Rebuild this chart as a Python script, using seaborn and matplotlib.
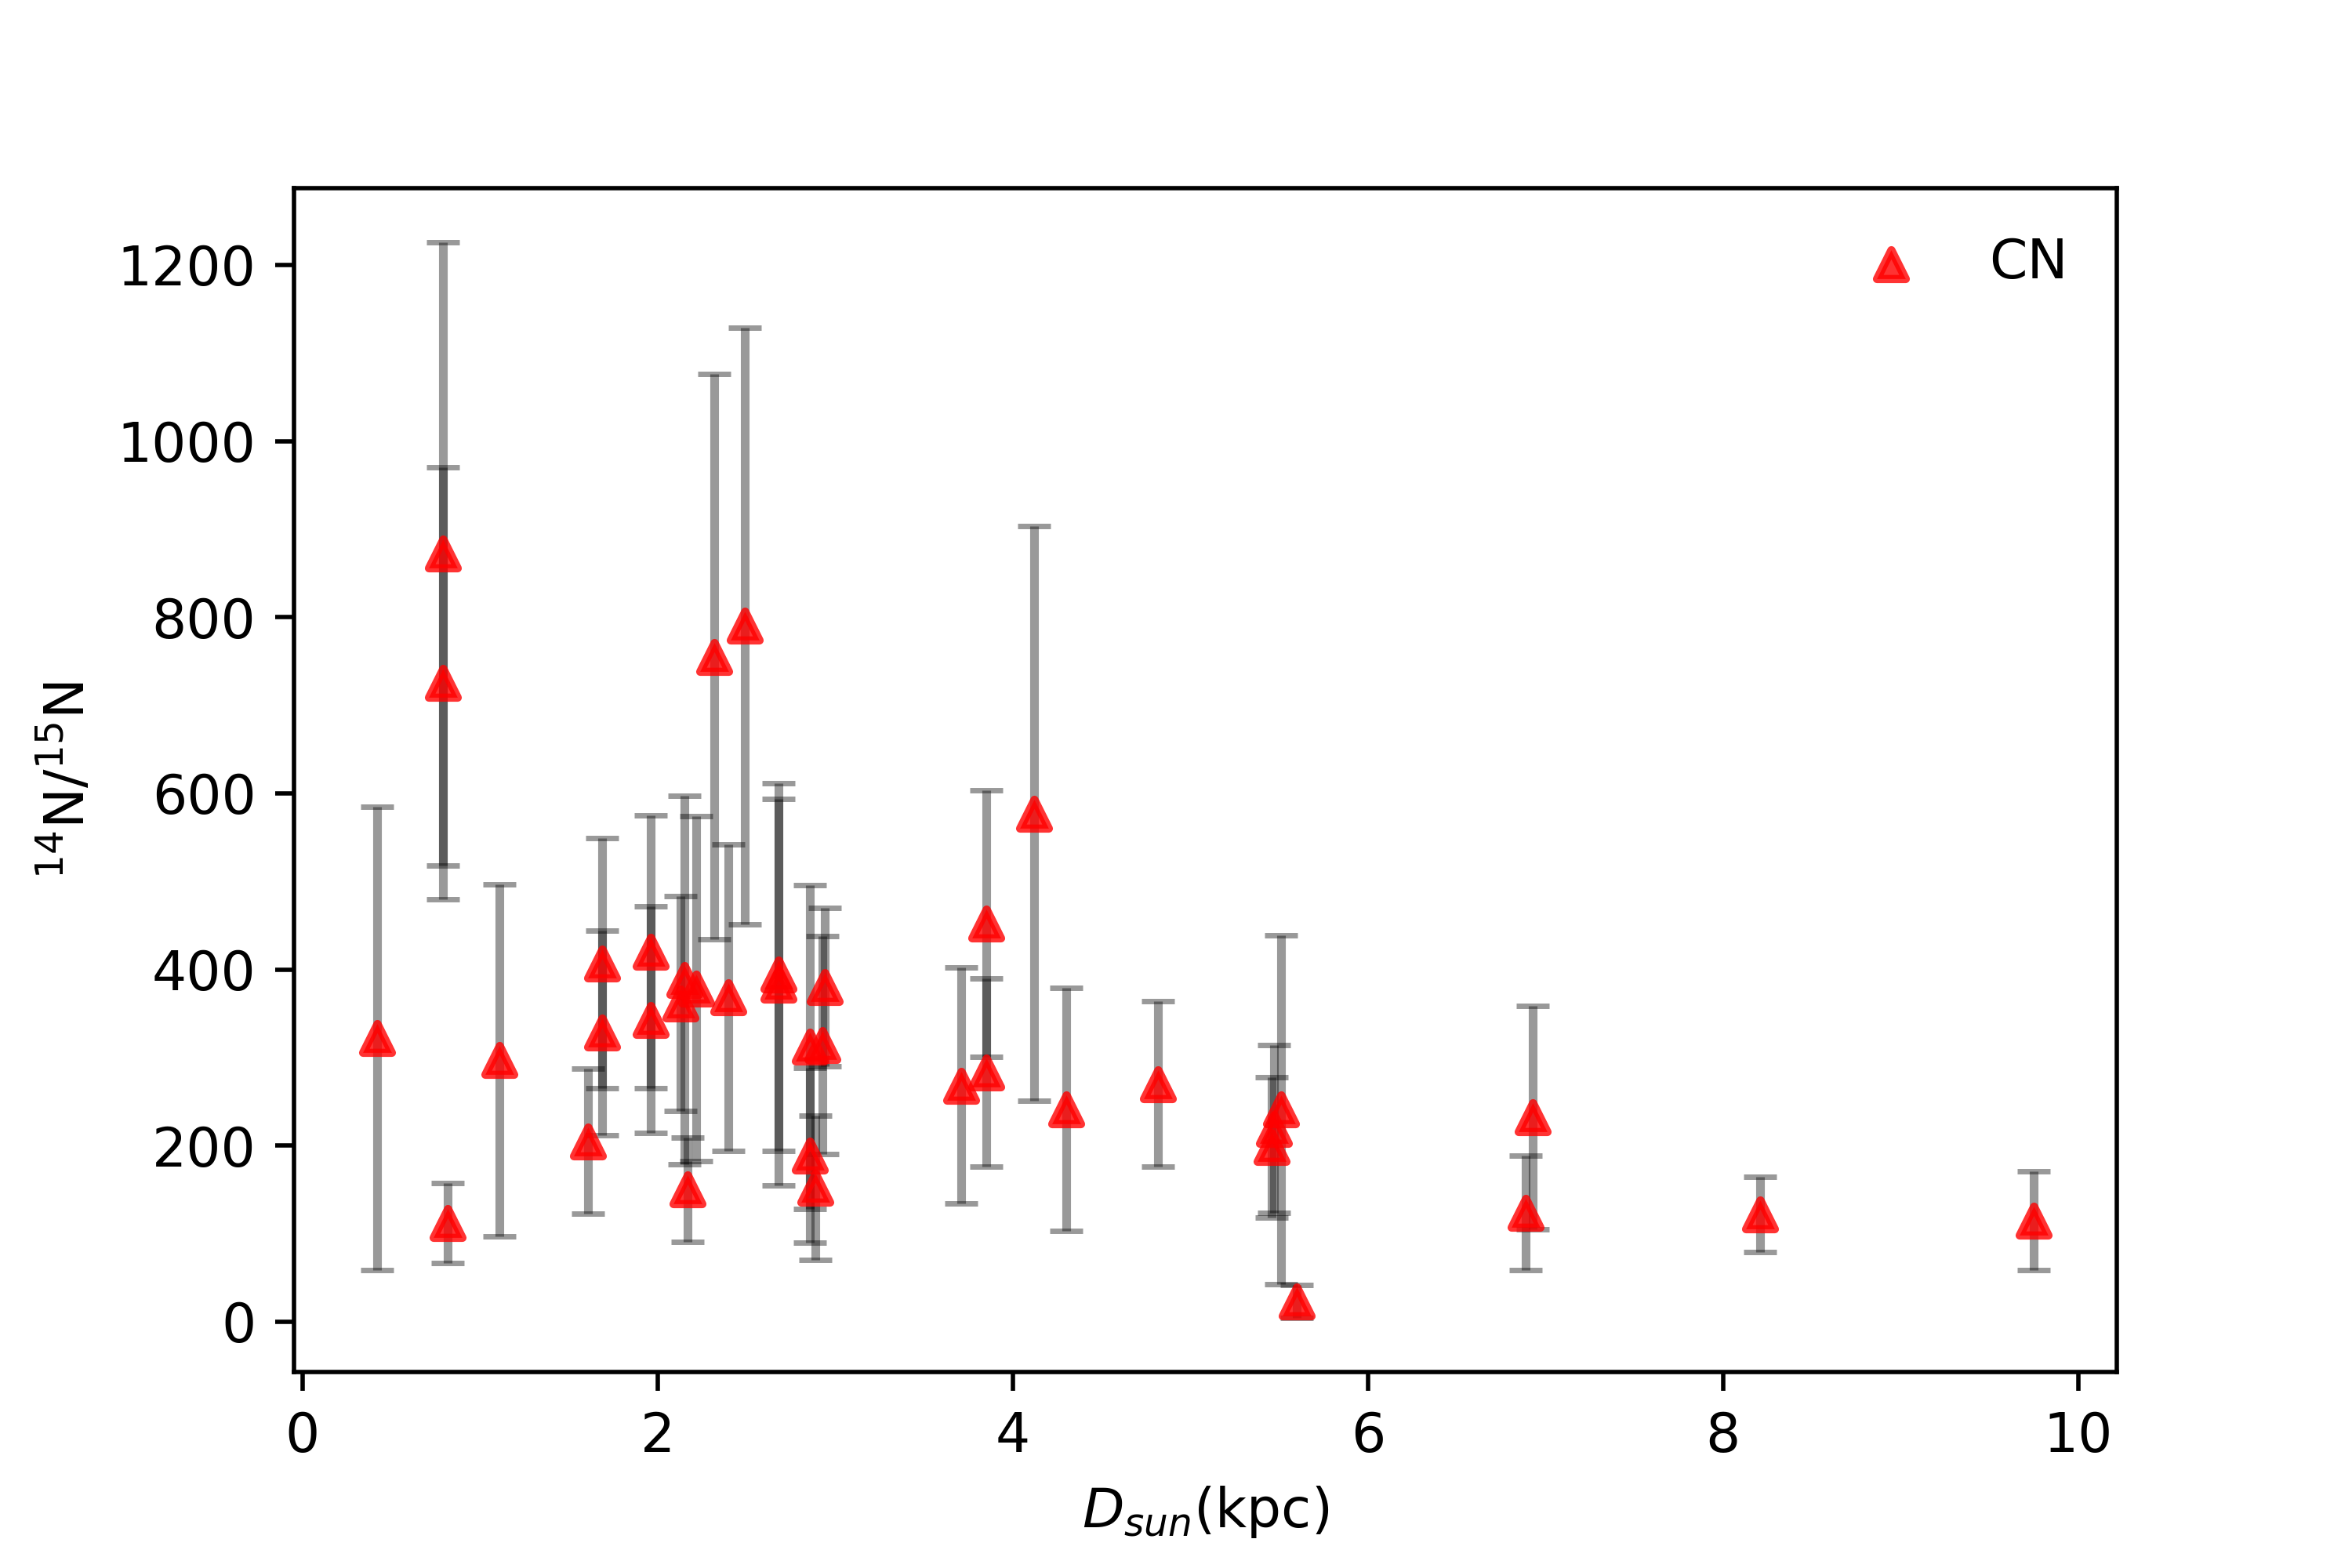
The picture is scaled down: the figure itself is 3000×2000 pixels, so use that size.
import matplotlib

matplotlib.use("Agg")
import matplotlib.pyplot as plt
import pandas as pd
import seaborn as sns

# heliocentric distance (kpc), 14N/15N ratio from CN, symmetric 1-sigma error
D_SUN = [0.42, 0.79, 0.79, 0.82, 1.11, 1.61, 1.69, 1.69, 1.96, 1.96,
         2.13, 2.15, 2.17, 2.22, 2.32, 2.40, 2.49, 2.68, 2.68, 2.86,
         2.86, 2.89, 2.93, 2.94, 3.71, 3.85, 3.85, 4.12, 4.30, 4.82,
         5.46, 5.47, 5.51, 5.60, 6.89, 6.93, 8.21, 9.75]
RATIO = [322, 725, 872, 112, 297, 205, 407, 328, 420, 343,
         361, 388, 150, 378, 755, 368, 790, 394, 383, 312,
         189, 152, 314, 380, 268, 452, 283, 577, 241, 270,
         198, 219, 241, 23, 124, 232, 122, 115]
RATIO_ERR = [263, 245, 354, 45, 200, 82, 142, 116, 155, 129,
             122, 209, 59, 196, 321, 174, 339, 200, 228, 184,
             99, 82, 124, 90, 134, 151, 107, 326, 138, 94,
             80, 95, 198, 19, 65, 127, 43, 56]

df = pd.DataFrame({"dsun": D_SUN, "ratio": RATIO, "err": RATIO_ERR})

fig, ax = plt.subplots(figsize=(6, 4), dpi=500)
fig.subplots_adjust(left=0.125, right=0.9, top=0.88, bottom=0.125)

ax.errorbar(df["dsun"], df["ratio"], yerr=df["err"], fmt="none",
            ecolor="black", alpha=0.4, elinewidth=1.6, capsize=3)
sns.scatterplot(data=df, x="dsun", y="ratio", marker="^", color="red",
                edgecolor="red", linewidth=1.5, s=28, alpha=0.8,
                label="CN", zorder=3, ax=ax, legend=False)

ax.set_xlabel(r"$D_{sun}$(kpc)")
ax.set_ylabel(r"$^{14}$N/$^{15}$N")
ax.legend(loc="upper right", frameon=False)

fig.savefig("out.png", dpi=500)
